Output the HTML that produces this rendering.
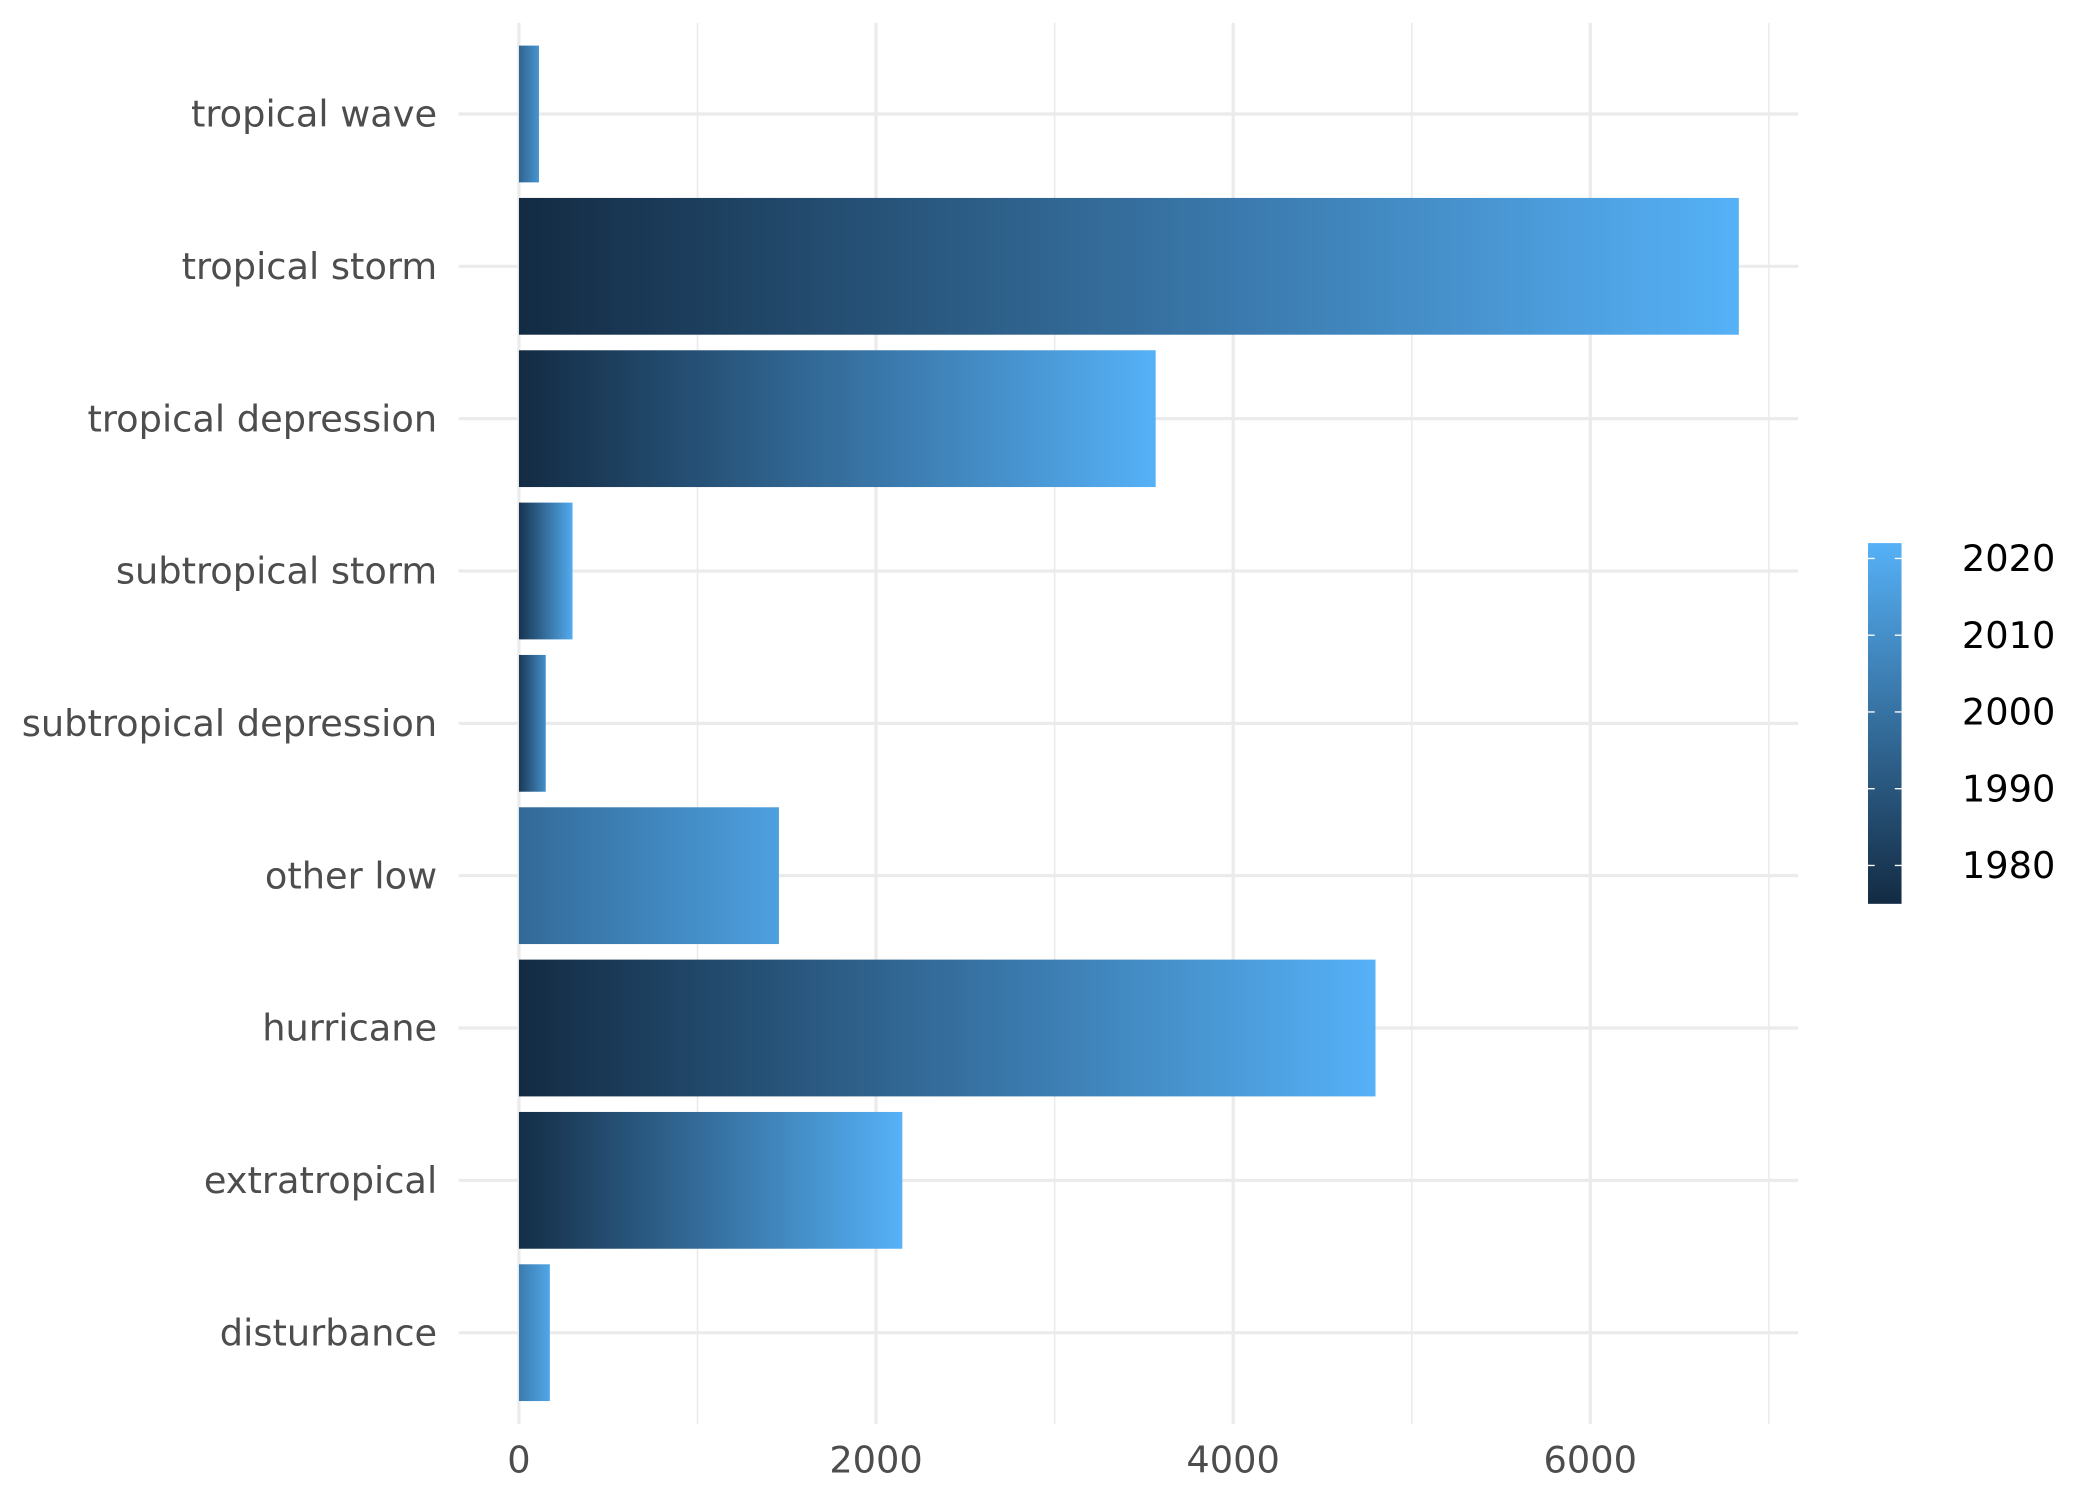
<!DOCTYPE html>
<html><head><meta charset="utf-8"><style>
html,body{margin:0;padding:0;background:#fff}
svg{display:block;font-family:"DejaVu Sans","Liberation Sans",sans-serif}
</style></head><body>
<svg id="chart" width="2100" height="1500" viewBox="0 0 1566 1118.57" xmlns="http://www.w3.org/2000/svg">
<defs id="defs"></defs>
<g id="grid"></g>
<g id="bars"></g>
<g id="yaxis"></g>
<g id="xaxis"></g>
<g id="legend"></g>
</svg>
<script>
const categories=["tropical wave","tropical storm","tropical depression","subtropical storm","subtropical depression","other low","hurricane","extratropical","disturbance"];
const counts=[112,6832,3566,300,150,1456,4797,2147,173];
const startYears=[1995,1975,1975,1978,1980,1997,1975,1976,2003];
const endYears=[2012,2022,2022,2020,2010,2016,2022,2022,2018];
const xTicks=[0,2000,4000,6000];
const legendTicks=[1980,1990,2000,2010,2020];
const yearMin=1975, yearMax=2022;

const NS="http://www.w3.org/2000/svg";
const x0=387, pxPer=0.13315, plotL=342, plotR=1341, plotT=17, plotB=1062;
const rowY0=85, rowStep=113.6, barH=102, fs=27.4;
const X=v=>x0+v*pxPer;
const Y=i=>rowY0+i*rowStep;
function mk(t,a,p){const e=document.createElementNS(NS,t);for(const k in a)e.setAttribute(k,a[k]);p.appendChild(e);return e;}
function col(yr){const t=Math.max(0,Math.min(1,(yr-yearMin)/(yearMax-yearMin)));
 const a=[19,43,67],b=[86,177,247];return "rgb("+a.map((c,i)=>Math.round(c+(b[i]-c)*t)).join(",")+")";}
const defs=document.getElementById('defs'),grid=document.getElementById('grid'),bars=document.getElementById('bars'),ya=document.getElementById('yaxis'),xa=document.getElementById('xaxis'),lg=document.getElementById('legend');
for(let v=1000;v<=7000;v+=2000){const l=mk('line',{x1:X(v),x2:X(v),y1:plotT,y2:plotB,stroke:'#ebebeb','stroke-width':1.2},grid);

}
xTicks.forEach(v=>{const l=mk('line',{x1:X(v),x2:X(v),y1:plotT,y2:plotB,stroke:'#ebebeb','stroke-width':2.4},grid);


const t=mk('text',{x:X(v),y:1098,'text-anchor':'middle','font-size':fs,fill:'#4d4d4d'},xa);t.textContent=v;

});
categories.forEach((c,i)=>{const l=mk('line',{x1:plotL,x2:plotR,y1:Y(i),y2:Y(i),stroke:'#ebebeb','stroke-width':2.4},grid);


const t=mk('text',{x:326,y:Y(i)+9.5,'text-anchor':'end','font-size':fs,fill:'#4d4d4d'},ya);t.textContent=c;


const g=mk('linearGradient',{id:'g'+i,x1:0,x2:1,y1:0,y2:0},defs);
for(let k=0;k<=10;k++){mk('stop',{offset:k/10,'stop-color':col(startYears[i]+(endYears[i]-startYears[i])*k/10)},g);}
const r=mk('rect',{x:X(0),y:Y(i)-barH/2,width:X(counts[i])-X(0),height:barH,fill:'url(#g'+i+')'},bars);

});
const lx=1393,lw=25,lTop=405,lBot=674,ypx=(lBot-lTop)/(yearMax-yearMin);
const lgGrad=mk('linearGradient',{id:'lgg',x1:0,x2:0,y1:1,y2:0},defs);
mk('stop',{offset:0,'stop-color':col(yearMin)},lgGrad);mk('stop',{offset:1,'stop-color':col(yearMax)},lgGrad);
const cb=mk('rect',{x:lx,y:lTop,width:lw,height:lBot-lTop,fill:'url(#lgg)'},lg);


legendTicks.forEach(v=>{const yy=lBot-(v-yearMin)*ypx;
mk('line',{x1:lx,x2:lx+5,y1:yy,y2:yy,stroke:'#fff','stroke-width':1},lg);mk('line',{x1:lx+lw-5,x2:lx+lw,y1:yy,y2:yy,stroke:'#fff','stroke-width':1},lg);
const t=mk('text',{x:1463,y:yy+9.5,'font-size':fs,fill:'#000'},lg);t.textContent=v;

});
</script>
</body></html>
